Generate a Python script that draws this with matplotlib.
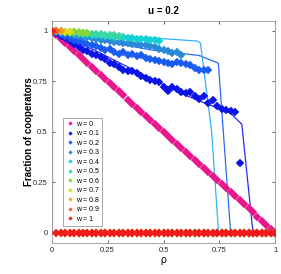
import numpy as np
import matplotlib
matplotlib.use('Agg')
import matplotlib.pyplot as plt

plt.rcParams['font.family'] = ['Liberation Sans', 'DejaVu Sans']

# rho grid used by the simulations
rho = np.round(np.arange(0, 1.0001, 0.02), 2)

w_labels = ['w = 0', 'w = 0.1', 'w = 0.2', 'w = 0.3', 'w = 0.4', 'w = 0.5',
            'w = 0.6', 'w = 0.7', 'w = 0.8', 'w = 0.9', 'w = 1']
w_colors = ['#e8168c', '#0a14e6', '#1a5cf0', '#2a8ad8', '#12d2d8', '#3ad8a0',
            '#86d63a', '#e0dc10', '#f0a020', '#f26420', '#ee1c1c']

# simulated fraction of cooperators (values before the collapse, zeros after)
coop_w0 = [1.0, 0.98, 0.96, 0.94, 0.92, 0.90, 0.88, 0.86, 0.84, 0.82, 0.80,
           0.78, 0.76, 0.74, 0.72, 0.70, 0.68, 0.66, 0.64, 0.62, 0.60,
           0.58, 0.56, 0.54, 0.52, 0.50, 0.48, 0.46, 0.44, 0.42, 0.40,
           0.38, 0.36, 0.34, 0.32, 0.30, 0.28, 0.26, 0.24, 0.22, 0.20,
           0.18, 0.16, 0.14, 0.12, 0.10, 0.08, 0.06, 0.04, 0.02, 0.0]
coop_w01 = [1.0, 0.99, 0.975, 0.965, 0.95, 0.935, 0.92, 0.905, 0.90, 0.885,
            0.88, 0.87, 0.86, 0.84, 0.835, 0.82, 0.805, 0.80, 0.80, 0.79,
            0.775, 0.765, 0.755, 0.75, 0.745, 0.72, 0.70, 0.72, 0.71, 0.695,
            0.69, 0.695, 0.675, 0.665, 0.677, 0.645, 0.66, 0.63, 0.615, 0.61,
            0.602, 0.60, 0.347]
coop_w02 = [1.0, 0.995, 0.985, 0.975, 0.965, 0.955, 0.95, 0.945, 0.937, 0.93,
            0.925, 0.915, 0.905, 0.91, 0.895, 0.885, 0.895, 0.88, 0.885, 0.875,
            0.88, 0.865, 0.86, 0.855, 0.85, 0.848, 0.84, 0.838, 0.845, 0.84,
            0.835, 0.83, 0.815, 0.805, 0.805, 0.804]
coop_w03 = [1.0, 0.998, 0.995, 0.99, 0.985, 0.98, 0.975, 0.972, 0.968, 0.965,
            0.96, 0.955, 0.955, 0.95, 0.945, 0.945, 0.94, 0.94, 0.935, 0.935,
            0.93, 0.93, 0.927, 0.92, 0.91, 0.903, 0.90, 0.89, 0.895, 0.883]
coop_w04 = [1.0, 0.999, 0.997, 0.995, 0.993, 0.99, 0.988, 0.986, 0.984, 0.982,
            0.98, 0.978, 0.976, 0.975, 0.972, 0.97, 0.968, 0.966, 0.965, 0.962,
            0.96, 0.958, 0.956, 0.955, 0.952]
coop_w05 = [1.0, 0.999, 0.998, 0.997, 0.995, 0.993, 0.991, 0.99, 0.988, 0.986,
            0.985, 0.983, 0.981, 0.98, 0.978, 0.976]
coop_w06 = [1.0, 0.999, 0.998, 0.997, 0.996, 0.994, 0.993, 0.992, 0.99]
coop_w07 = [1.0, 0.999, 0.998, 0.997, 0.996]
coop_w08 = [1.0, 0.999, 0.998]
coop_w09 = [1.0, 0.999]
coop_w1 = [1.0]

# mean-field curves for w = 0.1, 0.2, 0.3 and w = 1
theory_w01_rho = [0.0, 0.2, 0.44, 0.6, 0.8, 0.85, 0.9]
theory_w01_val = [1.0, 0.9, 0.765, 0.68, 0.592, 0.537, 0.0]
theory_w02_rho = [0.0, 0.2, 0.45, 0.66, 0.745, 0.8]
theory_w02_val = [1.0, 0.955, 0.905, 0.878, 0.84, 0.0]
theory_w03_rho = [0.0, 0.2, 0.45, 0.65, 0.665, 0.715, 0.746]
theory_w03_val = [1.0, 0.985, 0.965, 0.95, 0.94, 0.5, 0.0]
theory_w1_rho = [0.0, 0.0, 1.0]
theory_w1_val = [1.0, 0.0, 0.0]

series = [coop_w0, coop_w01, coop_w02, coop_w03, coop_w04, coop_w05,
          coop_w06, coop_w07, coop_w08, coop_w09, coop_w1]

fig = plt.figure(figsize=(2.81, 2.74), dpi=100)
ax = fig.add_axes([0.184, 0.114, 0.796, 0.81])

# theory lines
ax.plot(theory_w1_rho, theory_w1_val, color='#ff9a9a', lw=1.0, zorder=1)
ax.plot(theory_w01_rho, theory_w01_val, color='#2a2af0', lw=0.9, zorder=1)
ax.plot(theory_w02_rho, theory_w02_val, color='#2a6af5', lw=0.9, zorder=1)
ax.plot(theory_w03_rho, theory_w03_val, color='#30b4ff', lw=0.9, zorder=1)

for i, vals in enumerate(series):
    y = np.zeros(len(rho))
    y[:len(vals)] = vals
    ax.plot(rho, y, 'D', color=w_colors[i], ms=3.7, mew=0.3, mec=w_colors[i],
            label=w_labels[i], zorder=2 + i)

ax.set_xlim(0, 1)
ax.set_ylim(-0.05, 1.05)
ax.set_xticks([0, 0.25, 0.5, 0.75, 1])
ax.set_xticklabels(['0', '0.25', '0.5', '0.75', '1'])
ax.set_yticks([0, 0.25, 0.5, 0.75, 1])
ax.set_yticklabels(['0', '0.25', '0.5', '0.75', '1'])
ax.tick_params(direction='in', length=2.5, width=0.5, labelsize=5.5,
               colors='#262626', top=True, right=True, pad=3)
for s in ax.spines.values():
    s.set_color('#999999')
    s.set_linewidth(0.6)

ax.set_xlabel('ρ', fontsize=7.5, labelpad=1)
ax.set_ylabel('Fraction of cooperators', fontsize=7, fontweight='bold', labelpad=-1)
ax.set_title('u = 0.2', fontsize=7, fontweight='bold', pad=5)

leg = ax.legend(loc='lower left', bbox_to_anchor=(0.035, 0.06), fontsize=5,
                markerscale=0.5, handlelength=1.0, handletextpad=0.4,
                labelspacing=0.36, borderpad=0.45, fancybox=False,
                framealpha=1)
leg.get_frame().set_edgecolor('#999999')
leg.get_frame().set_linewidth(0.6)

fig.savefig('out.png', dpi=100)
